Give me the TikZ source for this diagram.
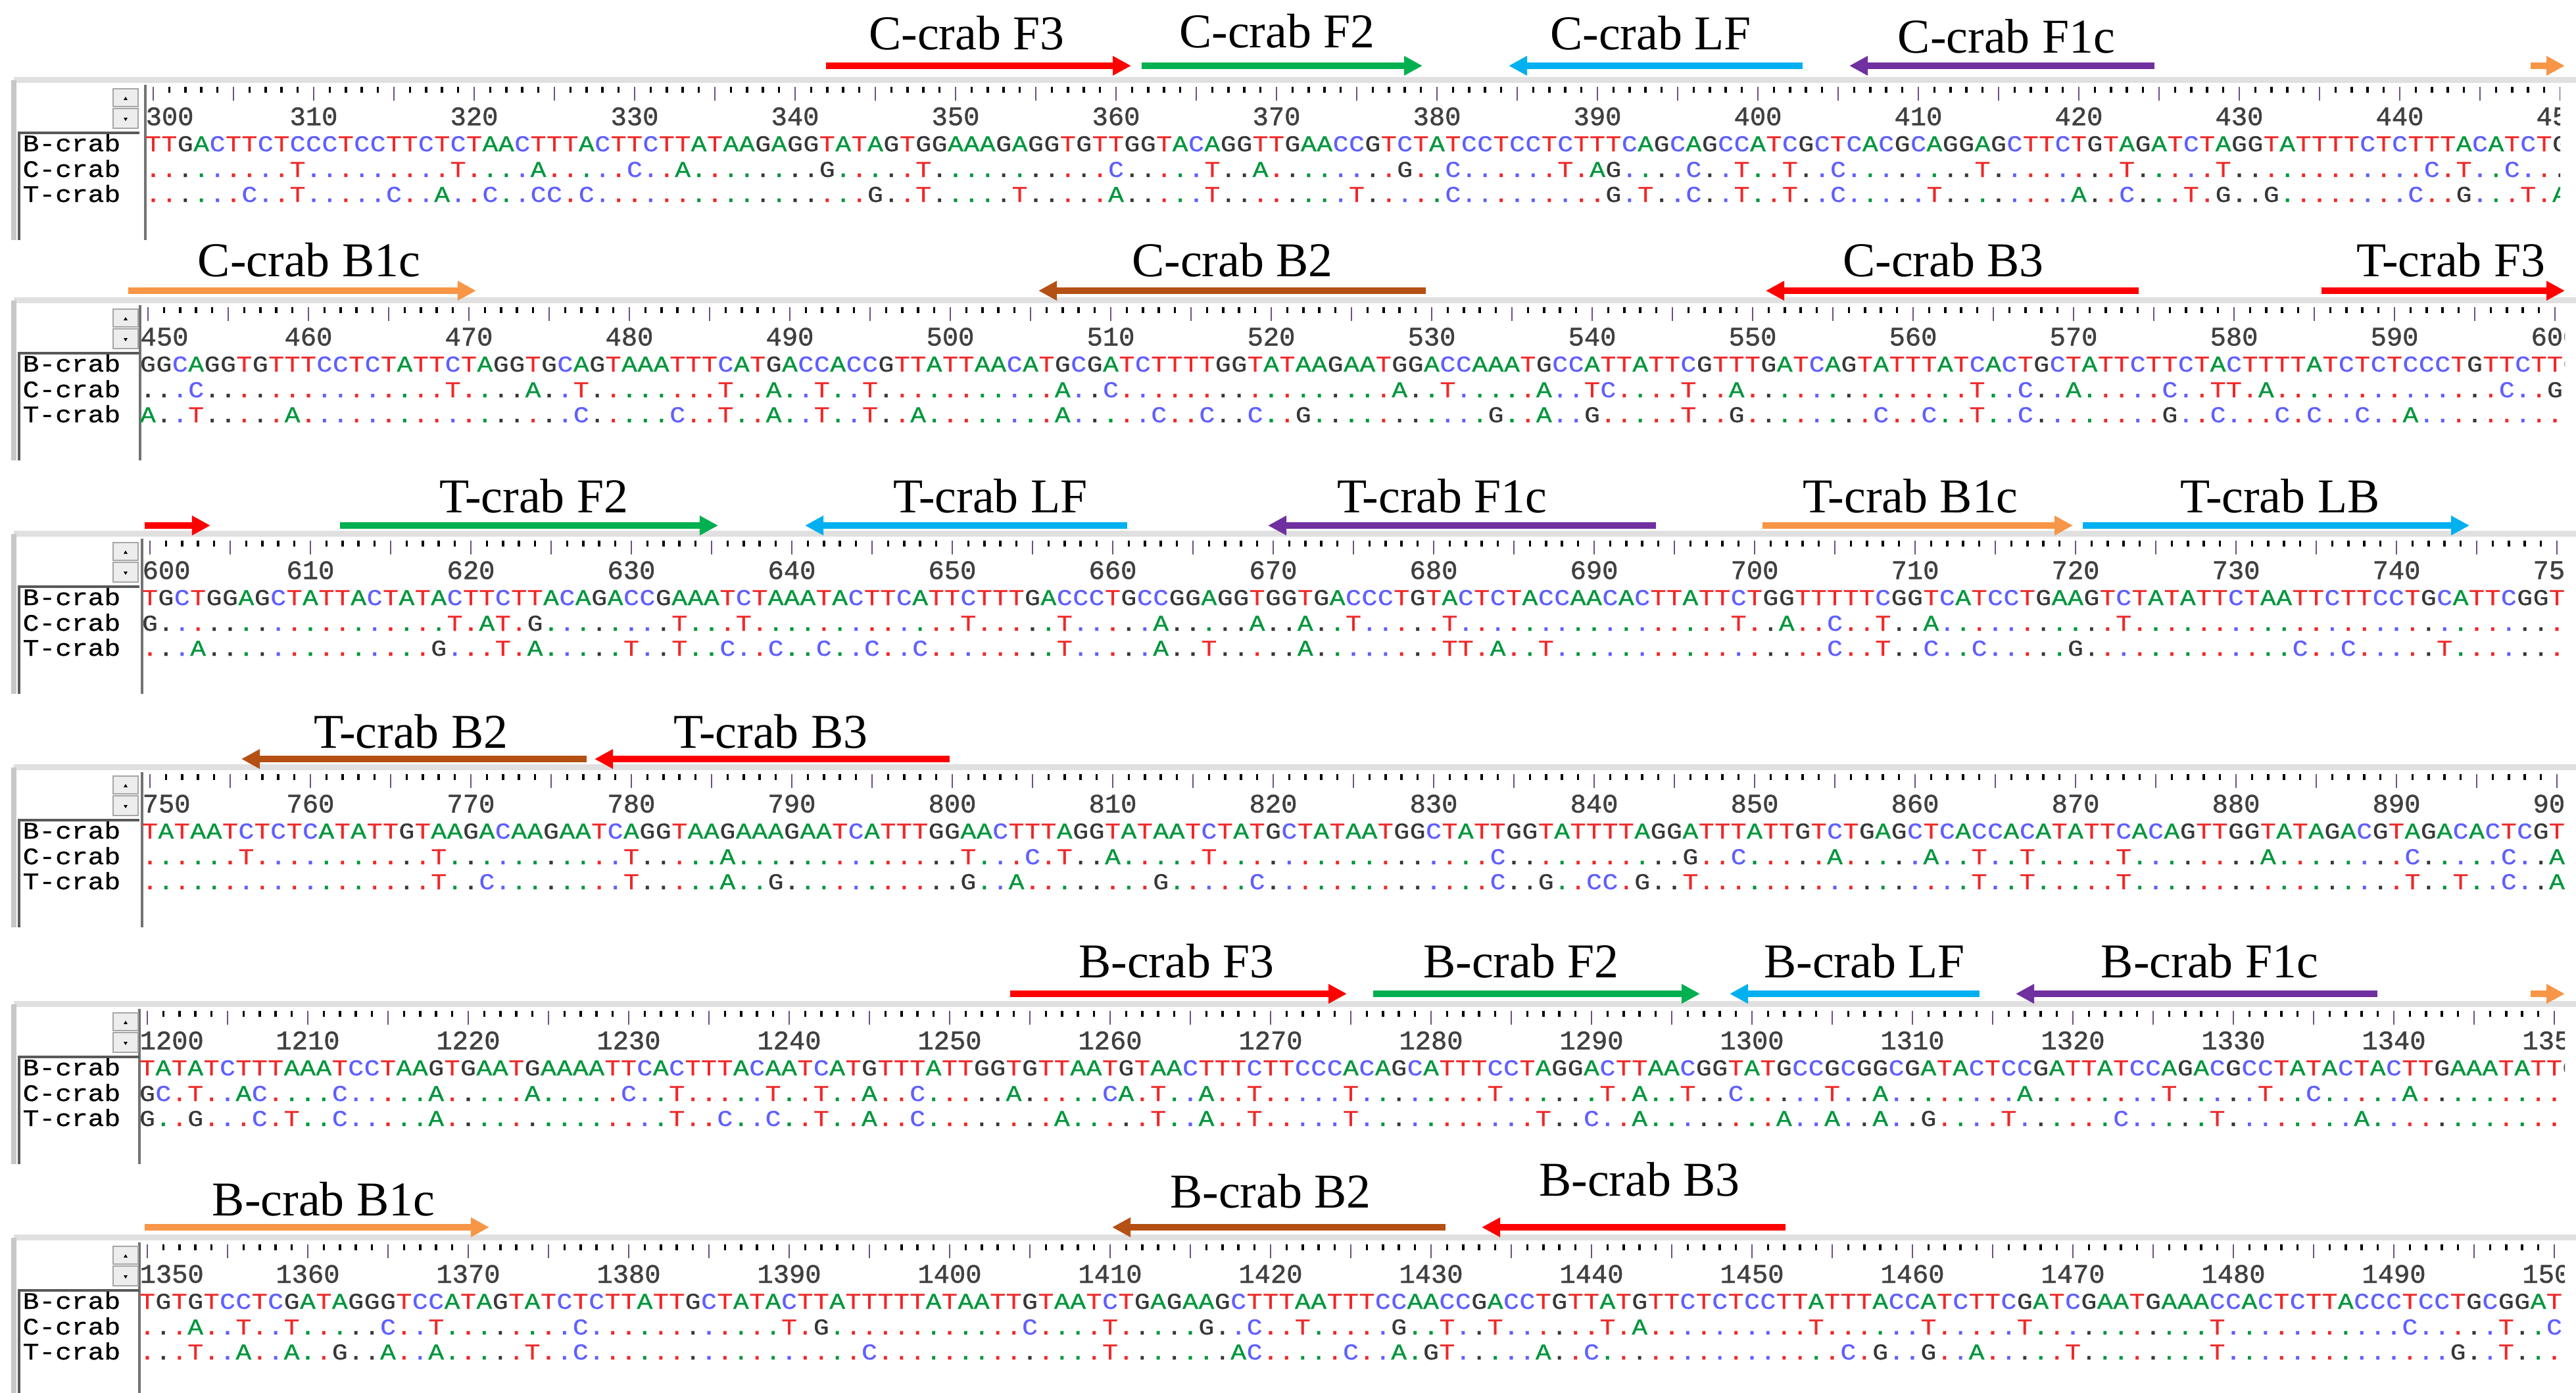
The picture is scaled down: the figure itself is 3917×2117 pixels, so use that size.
\documentclass[tikz,border=0pt]{standalone}
\usepackage{fontspec}
\setmainfont{Liberation Serif}
\setmonofont{Liberation Mono}
\newfontfamily\seqfont[FakeStretch=1.15,FakeBold=0.8]{Liberation Mono}
\newfontfamily\numfont[FakeBold=1.2]{Liberation Mono}
\usepackage{xstring}
\usetikzlibrary{arrows.meta}

\definecolor{ntA}{RGB}{0,150,60}
\definecolor{ntT}{RGB}{240,40,40}
\definecolor{ntC}{RGB}{95,95,255}
\definecolor{ntG}{RGB}{55,55,55}
\definecolor{prRed}{RGB}{255,0,0}
\definecolor{prGreen}{RGB}{0,176,80}
\definecolor{prCyan}{RGB}{0,176,240}
\definecolor{prPurple}{RGB}{112,48,160}
\definecolor{prOrange}{RGB}{247,150,70}
\definecolor{prBrown}{RGB}{180,80,20}
\definecolor{tickcol}{RGB}{110,80,130}

\def\pitch{24.4}

\tikzset{
  nt/.style={anchor=base, inner sep=0pt, font=\seqfont\fontsize{9.8}{10}\selectfont},
  seqname/.style={anchor=base west, inner sep=0pt, font=\seqfont\fontsize{10.2}{11}\selectfont},
  rulernum/.style={inner sep=0pt, text=black!75, font=\numfont\fontsize{11.5}{12}\selectfont},
  smalltick/.style={line width=1pt, black},
  bigtick/.style={line width=0.6pt, tickcol},
  primer/.style={line width=2.6pt, -{Triangle[length=2.8mm,width=2.8mm]}},
  primerlabel/.style={anchor=base, inner sep=0pt, font=\fontsize{21}{24}\selectfont},
  scrollbtn/.style={fill=black!7, draw=black!35, line width=0.6pt},
}

% blocks of ten, spaces dropped
\makeatletter
\newcommand\defseq[2]{\edef#1{\zap@space#2 \@empty}}
\makeatother

% one row of the alignment: x0, baseline, reference, row, prefix
\newcommand\seqrow[5]{%
  \StrLen{#4}[\rowlen]%
  \foreach \k in {1,...,\rowlen}{%
    \StrChar{#3}{\k}[\refch]%
    \StrChar{#4}{\k}[\rowch]%
    \IfStrEq{\rowch}{.}{\edef\ntcol{nt\refch}}{\edef\ntcol{nt\rowch}}%
    \ifx\refch\empty\def\ntcol{ntG}\fi
    \node[nt, text=\ntcol] (#5-\k) at ({#1+(\k-1)*\pitch},#2) {\rowch};
  }}

% ticks and numbers: x0, ny, first position, prefix
\newcommand\ruler[4]{%
  \foreach \i in {0,...,151}{%
    \pgfmathtruncatemacro\pos{#3+\i}%
    \pgfmathtruncatemacro\rfive{mod(\pos,5)}%
    \pgfmathtruncatemacro\rten{mod(\pos,10)}%
    \ifnum\rfive=0
      \draw[bigtick] ({#1+\i*\pitch},#2-45) -- ++(0,21);
    \else
      \draw[smalltick] ({#1+\i*\pitch},#2-45) -- ++(0,9);
    \fi
    \ifnum\rten=0
      \ifnum\i=0
        \node[rulernum, anchor=west] (#4-n\i) at ({#1-12},#2) {\pos};
      \else
        \node[rulernum] (#4-n\i) at ({#1+\i*\pitch},#2) {\pos};
      \fi
    \fi
  }}

% window frame, name box, scroll buttons: x0, ny, bottom, prefix
\newcommand\panelframe[4]{%
  \fill[black!12] (21,#2-60) rectangle (3917,#2-51);
  \draw[black!22, line width=2pt] (21,#2-55) -- (21,#3);
  \draw[black!55, line width=1.2pt] ({#1-12},#2-48) -- ({#1-12},#3);
  \draw[black!65, line width=1.4pt] (29,#3) -- (29,#2+25) -- (212,#2+25);
  \filldraw[scrollbtn] (172,#2-42) rectangle (210,#2-15);
  \filldraw[scrollbtn] (172,#2-12) rectangle (210,#2+18);
  \fill[black] (188,#2-25) -- (194,#2-25) -- (191,#2-30) -- cycle;
  \fill[black] (188,#2+2) -- (194,#2+2) -- (191,#2+7) -- cycle;
  \node[seqname] (#4-nb) at (34,#2+53) {B-crab};
  \node[seqname] (#4-nc) at (34,#2+92) {C-crab};
  \node[seqname] (#4-nt) at (34,#2+130) {T-crab};
}

% x0, ny, first position, clip x, prefix, B row, C row, T row
\newcommand\alignpanel[8]{%
  \panelframe{#1}{#2}{#2+188}{#5}
  \begin{scope}
    \clip (0,#2-70) rectangle (#4,#2+170);
    \ruler{#1}{#2}{#3}{#5}
    \seqrow{#1}{#2+53}{#6}{#6}{#5b}
    \seqrow{#1}{#2+92}{#6}{#7}{#5c}
    \seqrow{#1}{#2+130}{#6}{#8}{#5t}
  \end{scope}}

% 300-450
\defseq\pAb{TTGACTTCTC CCTCCTTCTC TAACTTTACT TCTTATAAGA GGTATAGTGG AAAGAGGTGT TGGTACAGGT TGAACCGTCT ATCCTCCTCT TTCAGCAGCC ATCGCTCACG CAGGAGCTTC TGTAGATCTA GGTATTTTCT CTTTACATCT G}
\defseq\pAc{.........T .........T ....A..... C..A...... ..G.....T. .......... C.....T..A ........G. .C......T. AG....C..T ..T..C.... ....T..... ...T.....T .......... ..C.T..C.. .}
\defseq\pAt{......C..T .....C..A. .C..CC.C.. .......... .....G..T. ....T..... A.....T... .....T.... .C........ .G.T..C..T ..T..C.... .T........ A..C...T.G ..G....... .C..G...T. A}
% 450-601
\defseq\pBb{GGCAGGTGTT TCCTCTATTC TAGGTGCAGT AAATTTCATG ACCACCGTTA TTAACATGCG ATCTTTTGGT ATAAGAATGG ACCAAATGCC ATTATTCGTT TGATCAGTAT TTATCACTGC TATTCTTCTA CTTTTATCTC TCCCTGTTCT TG}
\defseq\pBc{...C...... .........T ....A..T.. ......T..A ..T..T.... .......A.. C......... ........A. .T.....A.. TC....T..A .......... ....T..C.. A.....C..T T.A....... .......C.. G.}
\defseq\pBt{A..T.....A .......... .......C.. ...C..T..A ..T..T..A. .......A.. ...C..C..C ..G....... ....G..A.. G.....T..G ........C. .C..T..C.. ......G..C ...C.C..C. .A........ ..}
% 600-751
\defseq\pCb{TGCTGGAGCT ATTACTATAC TTCTTACAGA CCGAAATCTA AATACTTCAT TCTTTGACCC TGCCGGAGGT GGTGACCCTG TACTCTACCA ACACTTATTC TGGTTTTTCG GTCATCCTGA AGTCTATATT CTAATTCTTC CTGCATTCGG TA}
\defseq\pCc{G......... .........T .AT.G..... ...T...T.. .......... .T.....T.. ...A.....A ..A..T.... .T........ .........T ..A..C..T. .A........ ...T...... .......... .......... ..}
\defseq\pCt{...A...... ........G. ..T.A..... T..T..C..C ..C..C..C. .......T.. ...A..T... ..A....... .TT.A..T.. .......... .....C..T. .C..C..... G......... ....C..C.. ...T...... ..}
% 750-900
\defseq\pDb{TATAATCTCT CATATTGTAA GACAAGAATC AGGTAAGAAA GAATCATTTG GAACTTTAGG TATAATCTAT GCTATAATGG CTATTGGTAT TTTAGGATTT ATTGTCTGAG CTCACCACAT ATTCACAGTT GGTATAGACG TAGACACTCG T}
\defseq\pDc{......T... ........T. .......... T.....A... .......... .T...C.T.. A.....T... .......... ....C..... ......G..C .....A.... .A..T..T.. ...T...... ..A....... .C.....C.. A}
\defseq\pDt{.......... ........T. .C........ T.....A..G .......... .G..A..... ...G.....C .......... ....C..G.. CC.G..T... .......... ....T..T.. ...T...... .......... .T..T..C.. A}
% 1200-1351
\defseq\pEb{TATATCTTTA AATCCTAAGT GAATGAAAAT TCACTTTACA ATCATGTTTA TTGGTGTTAA TGTAACTTTC TTCCCACAGC ATTTCCTAGG ACTTAACGGT ATGCCGCGGC GATACTCCGA TTATCCAGAC GCCTATACTA CTTGAAATAT TG}
\defseq\pEc{GC.T..AC.. ..C.....A. ....A..... C..T.....T ..T..A..C. ....A..... CA.T..A..T .....T.... ....T..... .T.A..T..C .....T..A. .......A.. ......T... ..T..C.... .A........ ..}
\defseq\pEt{G..G...C.T ..C.....A. .......... ...T..C..C ..T..A..C. .......A.. ...T..A..T .....T.... .......T.. C..A...... ..A..A..A. .G....T... ...C.....T ........A. .......... ..}
% 1350-1500
\defseq\pFb{TGTGTCCTCG ATAGGGTCCA TAGTATCTCT TATTGCTATA CTTATTTTTA TAATTGTAAT CTGAGAAGCT TTAATTTCCA ACCGACCTGT TATGTTCTCT CCTTATTTAC CATCTTCGAT CGAATGAAAC CACTCTTACC CTCCTGCGGA T}
\defseq\pFc{...A..T..T .....C..T. .......C.. .......... T.G....... .....C.... T.....G..C ..T.....G. .T..T..... .T.A...... ....T..... .T.....T.. .........T .......... .C.....T.. C}
\defseq\pFt{...T..A..A ..G..A..A. ....T..C.. .......... .....C.... .......... T.......AC .....C..A. GT.....A.. C......... ......C.G. .G..A..... T........T .......... ....G..T.. .}

\begin{document}
\begin{tikzpicture}[x=0.01cm, y=-0.01cm]
\path[use as bounding box] (0,0) rectangle (3917,2117);
\fill[white] (0,0) rectangle (3917,2117);

\alignpanel{233}{177}{300}{3893}{pa}{\pAb}{\pAc}{\pAt}
\alignpanel{225}{512}{450}{3900}{pb}{\pBb}{\pBc}{\pBt}
\alignpanel{228}{867}{600}{3900}{pc}{\pCb}{\pCc}{\pCt}
\alignpanel{228}{1222}{750}{3900}{pd}{\pDb}{\pDc}{\pDt}
\alignpanel{224}{1582}{1200}{3900}{pe}{\pEb}{\pEc}{\pEt}
\alignpanel{224}{1937}{1350}{3900}{pf}{\pFb}{\pFc}{\pFt}

% C-crab primers
\coordinate (cF3a) at (1256,100); \coordinate (cF3b) at (1720,100);
\coordinate (cF2a) at (1736,100); \coordinate (cF2b) at (2163,100);
\coordinate (cLFa) at (2741,100); \coordinate (cLFb) at (2294,100);
\coordinate (cF1a) at (3276,100); \coordinate (cF1b) at (2812,100);
\coordinate (cB1x) at (3848,100); \coordinate (cB1y) at (3900,100);
\draw[primer, prRed] (cF3a) -- (cF3b);
\draw[primer, prGreen] (cF2a) -- (cF2b);
\draw[primer, prCyan] (cLFa) -- (cLFb);
\draw[primer, prPurple] (cF1a) -- (cF1b);
\draw[primer, prOrange] (cB1x) -- (cB1y);
\node[primerlabel] (cF3) at (1470,75) {C-crab F3};
\node[primerlabel] (cF2) at (1942,72) {C-crab F2};
\node[primerlabel] (cLF) at (2510,75) {C-crab LF};
\node[primerlabel] (cF1c) at (3051,80) {C-crab F1c};

\coordinate (cB1a) at (195,442); \coordinate (cB1b) at (724,442);
\coordinate (cB2a) at (2168,442); \coordinate (cB2b) at (1579,442);
\coordinate (cB3a) at (3252,442); \coordinate (cB3b) at (2685,442);
\coordinate (tF3a) at (3530,442); \coordinate (tF3b) at (3900,442);
\draw[primer, prOrange] (cB1a) -- (cB1b);
\draw[primer, prBrown] (cB2a) -- (cB2b);
\draw[primer, prRed] (cB3a) -- (cB3b);
\draw[primer, prRed] (tF3a) -- (tF3b);
\node[primerlabel] (cB1c) at (470,420) {C-crab B1c};
\node[primerlabel] (cB2) at (1874,420) {C-crab B2};
\node[primerlabel] (cB3) at (2955,420) {C-crab B3};
\node[primerlabel] (tF3) at (3727,420) {T-crab F3};

% T-crab primers
\coordinate (tF3c) at (220,799); \coordinate (tF3d) at (320,799);
\coordinate (tF2a) at (517,799); \coordinate (tF2b) at (1092,799);
\coordinate (tLFa) at (1714,799); \coordinate (tLFb) at (1224,799);
\coordinate (tF1a) at (2518,799); \coordinate (tF1b) at (1928,799);
\coordinate (tB1a) at (2680,799); \coordinate (tB1b) at (3152,799);
\coordinate (tLBa) at (3167,799); \coordinate (tLBb) at (3755,799);
\draw[primer, prRed] (tF3c) -- (tF3d);
\draw[primer, prGreen] (tF2a) -- (tF2b);
\draw[primer, prCyan] (tLFa) -- (tLFb);
\draw[primer, prPurple] (tF1a) -- (tF1b);
\draw[primer, prOrange] (tB1a) -- (tB1b);
\draw[primer, prCyan] (tLBa) -- (tLBb);
\node[primerlabel] (tF2) at (812,779) {T-crab F2};
\node[primerlabel] (tLF) at (1506,779) {T-crab LF};
\node[primerlabel] (tF1c) at (2193,779) {T-crab F1c};
\node[primerlabel] (tB1c) at (2905,779) {T-crab B1c};
\node[primerlabel] (tLB) at (3467,779) {T-crab LB};

\coordinate (tB2a) at (892,1154); \coordinate (tB2b) at (367,1154);
\coordinate (tB3a) at (1444,1154); \coordinate (tB3b) at (904,1154);
\draw[primer, prBrown] (tB2a) -- (tB2b);
\draw[primer, prRed] (tB3a) -- (tB3b);
\node[primerlabel] (tB2) at (625,1137) {T-crab B2};
\node[primerlabel] (tB3) at (1172,1137) {T-crab B3};

% B-crab primers
\coordinate (bF3a) at (1536,1511); \coordinate (bF3b) at (2048,1511);
\coordinate (bF2a) at (2088,1511); \coordinate (bF2b) at (2585,1511);
\coordinate (bLFa) at (3010,1511); \coordinate (bLFb) at (2630,1511);
\coordinate (bF1a) at (3615,1511); \coordinate (bF1b) at (3065,1511);
\coordinate (bB1x) at (3848,1511); \coordinate (bB1y) at (3900,1511);
\draw[primer, prRed] (bF3a) -- (bF3b);
\draw[primer, prGreen] (bF2a) -- (bF2b);
\draw[primer, prCyan] (bLFa) -- (bLFb);
\draw[primer, prPurple] (bF1a) -- (bF1b);
\draw[primer, prOrange] (bB1x) -- (bB1y);
\node[primerlabel] (bF3) at (1789,1486) {B-crab F3};
\node[primerlabel] (bF2) at (2313,1486) {B-crab F2};
\node[primerlabel] (bLF) at (2835,1486) {B-crab LF};
\node[primerlabel] (bF1c) at (3360,1486) {B-crab F1c};

\coordinate (bB1a) at (220,1866); \coordinate (bB1b) at (744,1866);
\coordinate (bB2a) at (2198,1866); \coordinate (bB2b) at (1691,1866);
\coordinate (bB3a) at (2715,1866); \coordinate (bB3b) at (2253,1866);
\draw[primer, prOrange] (bB1a) -- (bB1b);
\draw[primer, prBrown] (bB2a) -- (bB2b);
\draw[primer, prRed] (bB3a) -- (bB3b);
\node[primerlabel] (bB1c) at (492,1848) {B-crab B1c};
\node[primerlabel] (bB2) at (1932,1836) {B-crab B2};
\node[primerlabel] (bB3) at (2493,1818) {B-crab B3};
\end{tikzpicture}
\end{document}
